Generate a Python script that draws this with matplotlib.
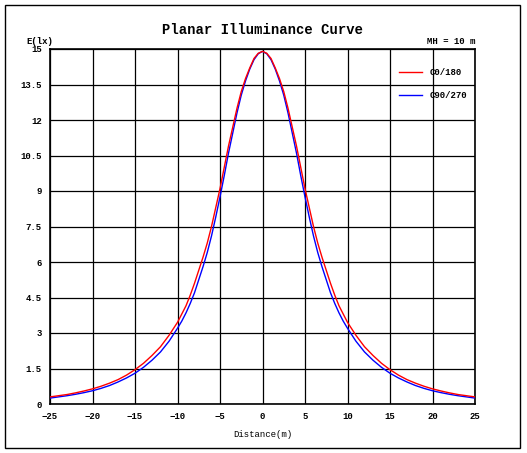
import matplotlib
matplotlib.use("Agg")
import matplotlib.pyplot as plt
from matplotlib.patches import Rectangle

half_x = [0, 0.5, 1, 1.5, 2, 2.5, 3, 3.5, 4, 4.5, 5, 5.5, 6, 6.5, 7, 7.5, 8, 8.5, 9, 9.5,
          10, 11, 12, 13, 14, 15, 16, 17, 18, 19, 20, 21, 22, 23, 24, 25]
red_half = [14.9, 14.82, 14.6, 14.2, 13.75, 13.2, 12.5, 11.7, 10.9, 10.0, 9.1, 8.3, 7.5, 6.8, 6.2, 5.65,
            5.1, 4.6, 4.15, 3.8, 3.45, 2.9, 2.42, 2.05, 1.72, 1.45, 1.22, 1.03, 0.88, 0.75, 0.64,
            0.55, 0.47, 0.4, 0.35, 0.3]
blue_half = [14.9, 14.8, 14.55, 14.15, 13.65, 13.05, 12.3, 11.45, 10.6, 9.65, 8.75, 7.9, 7.1, 6.4, 5.8, 5.25,
             4.7, 4.25, 3.85, 3.5, 3.2, 2.65, 2.2, 1.85, 1.55, 1.3, 1.1, 0.93, 0.78, 0.66, 0.56,
             0.48, 0.41, 0.35, 0.3, 0.25]

x = [-v for v in half_x[:0:-1]] + half_x
red = red_half[:0:-1] + red_half
blue = blue_half[:0:-1] + blue_half

xticks = list(range(-25, 26, 5))
yticks = [0, 1.5, 3, 4.5, 6, 7.5, 9, 10.5, 12, 13.5, 15]
ylabels = ["0", "1.5", "3", "4.5", "6", "7.5", "9", "10.5", "12", "13.5", "15"]

plt.rcParams['font.family'] = ['Liberation Mono', 'DejaVu Sans Mono']
plt.rcParams['font.weight'] = 'bold'

fig = plt.figure(figsize=(5.27, 4.53), dpi=100)
fig.patches.append(Rectangle((5/527, 5/453), 515/527, 443/453, transform=fig.transFigure,
                             fill=False, edgecolor='black', linewidth=1))
ax = fig.add_axes([50/527, 1-404/453, 425/527, 355/453])
ax.plot(x, blue, color='blue', lw=1, label='C90/270', zorder=3)
ax.plot(x, red, color='red', lw=1, label='C0/180', zorder=3)
ax.set_xlim(-25, 25)
ax.set_ylim(0, 15)
ax.set_xticks(xticks)
ax.set_yticks(yticks)
ax.set_yticklabels(ylabels)
ax.grid(True, color='black', lw=0.9)
ax.tick_params(length=0, labelsize=6.5, pad=6)
for s in ax.spines.values():
    s.set_linewidth(1.2)
ax.set_xlabel('Distance(m)', fontsize=6.5, labelpad=6)
fig.text(263/527, 1-30/453, 'Planar Illuminance Curve', ha='center', va='center', fontsize=10)
fig.text(40/527, 1-42/453, 'E(lx)', ha='center', va='center', fontsize=6.5)
fig.text(475/527, 1-42/453, 'MH = 10 m', ha='right', va='center', fontsize=6.5)
h, l = ax.get_legend_handles_labels()
ax.legend(h[::-1], l[::-1], loc='upper right', frameon=False, fontsize=6.5,
          handlelength=2.5, labelspacing=1.6, bbox_to_anchor=(1.0, 0.97))
fig.savefig('out.png', dpi=100)
